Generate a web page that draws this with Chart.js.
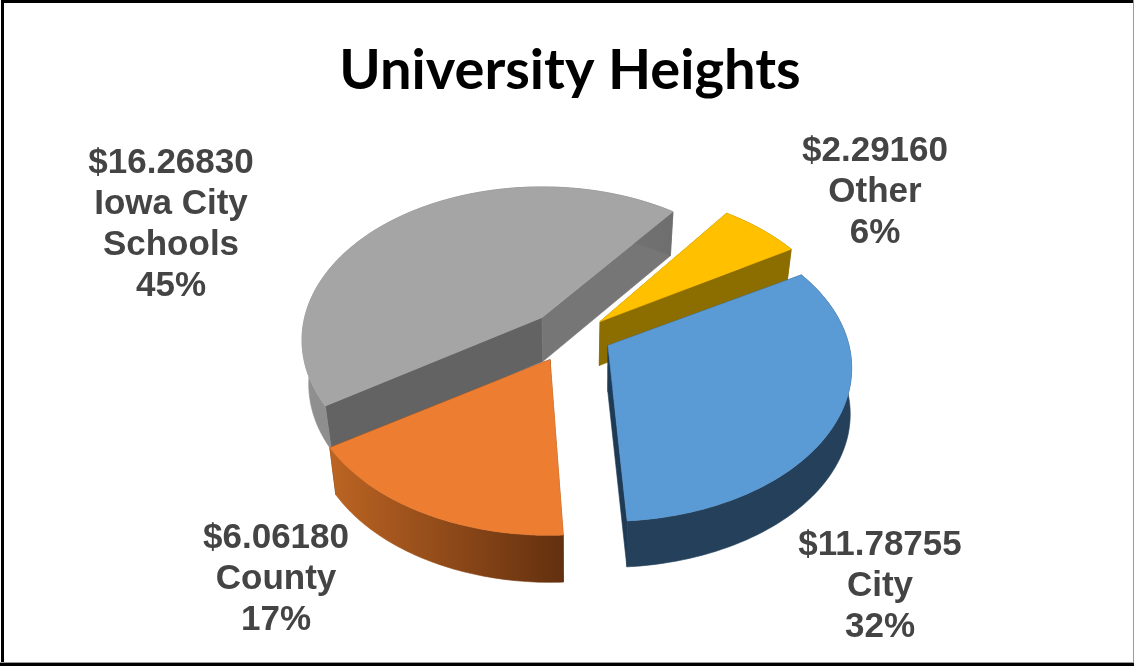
<!DOCTYPE html>
<html>
<head>
<meta charset="utf-8">
<title>University Heights</title>
<script src="https://cdn.jsdelivr.net/npm/chart.js@4"></script>
<style>
html, body { margin: 0; padding: 0; background: #fff; }
canvas { display: block; }
</style>
</head>
<body>
<canvas id="chart" width="1134" height="666"></canvas>
<script>
// data, clockwise from the rotation angle
const categories = ["Other", "City", "County", "Iowa City Schools"];
const categoryLines = [["Other"], ["City"], ["County"], ["Iowa City", "Schools"]];
const values = [2.2916, 11.78755, 6.0618, 16.2683];

// styles
const topColors = ["#ffc000", "#5b9bd5", "#ed7d31", "#a5a5a5"];
const wallStart = ["#8c6d00", "#24405a", "#bc6423", "#909090"];
const wallEnd = ["#8c6d00", "#24405a", "#63300f", "#6e6e6e"];
const cutStartColors = ["#8c6d00", "#24405a", "#8a4a18", "#636363"];
const cutEndColors = ["#8c6d00", "#1f3a54", "#63300f", "#767676"];
const explode = [[30, -12], [38, 12], [-20, 26], [-28, -16]];
const sliceTurn = [-1.5, -0.6, 0.6, 0.5];
const sliceWidth = [1, 1, 1, 0.985];
const sliceDepth = [44, 46, 47, 44];
const bottomShrink = [0.975, 0.995, 0.975, 0.975];
const labelAnchors = [[875, 151], [880, 545], [276, 538], [171, 163]];
const paintOrder = [3, 0, 2, 1];

// projection of the tilted disc
const tilt = 0.622;
const perspective = 0.147;

function project(arc, i, px, py, low) {
    const off = explode[i];
    const k = 1 / (1 - perspective * py);
    const sx = low ? bottomShrink[i] : 1;
    return {
        x: arc.x + (off[0] + arc.outerRadius * px * k * sliceWidth[i]) * sx,
        y: arc.y + off[1] + arc.outerRadius * tilt * py * k + (low ? sliceDepth[i] : 0),
    };
}

function tracePoints(ctx, pts) {
    ctx.beginPath();
    pts.forEach((p, i) => (i ? ctx.lineTo(p.x, p.y) : ctx.moveTo(p.x, p.y)));
    ctx.closePath();
}

function fillPoly(ctx, pts, fill) {
    tracePoints(ctx, pts);
    ctx.fillStyle = fill;
    ctx.strokeStyle = fill;
    ctx.lineWidth = 0.6;
    ctx.fill();
    ctx.stroke();
}

function drawSlice(ctx, arc, i) {
    const turn = sliceTurn[i] * Math.PI / 180;
    const top = [];
    const low = [];
    const steps = 80;
    for (let s = 0; s <= steps; s++) {
        const a = arc.startAngle + turn + (arc.endAngle - arc.startAngle) * s / steps;
        top.push(project(arc, i, Math.cos(a), Math.sin(a), false));
        low.push(project(arc, i, Math.cos(a), Math.sin(a), true));
    }
    const apexTop = project(arc, i, 0, 0, false);
    const apexLow = project(arc, i, 0, 0, true);

    // cut faces
    fillPoly(ctx, [apexTop, top[0], low[0], apexLow], cutStartColors[i]);
    fillPoly(ctx, [apexTop, top[steps], low[steps], apexLow], cutEndColors[i]);

    // outer wall
    const xs = top.concat(low).map(p => p.x);
    const grad = ctx.createLinearGradient(Math.min(...xs), 0, Math.max(...xs), 0);
    grad.addColorStop(0, wallStart[i]);
    grad.addColorStop(1, wallEnd[i]);
    fillPoly(ctx, top.concat(low.slice().reverse()), grad);

    // top face
    fillPoly(ctx, [apexTop].concat(top), topColors[i]);
}

const pie3d = {
    id: "pie3d",
    beforeDraw(chart) {
        const { ctx, width, height } = chart;
        ctx.save();
        ctx.fillStyle = "#fff";
        ctx.fillRect(0, 0, width, height);
        ctx.fillStyle = "#000";
        ctx.fillRect(1, 0, width - 1, 3);
        ctx.fillRect(1, 0, 3, height);
        ctx.fillRect(0, height - 3, width, 3);
        ctx.fillStyle = "#9a9a9a";
        ctx.fillRect(0, height - 4, width, 1);
        ctx.fillRect(width - 1, 0, 1, height - 3);
        ctx.restore();
    },
    beforeDatasetsDraw(chart) {
        const arcs = chart.getDatasetMeta(0).data;
        chart.ctx.save();
        paintOrder.forEach(i => drawSlice(chart.ctx, arcs[i], i));
        chart.ctx.restore();
        return false;
    },
    afterDraw(chart) {
        const ctx = chart.ctx;
        const total = values.reduce((a, b) => a + b, 0);
        ctx.save();
        ctx.font = "bold 35px 'Liberation Sans'";
        ctx.fillStyle = "#444444";
        ctx.textAlign = "center";
        ctx.textBaseline = "middle";
        categories.forEach((c, i) => {
            const lines = ["$" + values[i].toFixed(5)]
                .concat(categoryLines[i], Math.round(values[i] / total * 100) + "%");
            lines.forEach((line, n) => {
                ctx.fillText(line, labelAnchors[i][0], labelAnchors[i][1] + n * 41);
            });
        });
        ctx.restore();
    },
};

new Chart(document.getElementById("chart"), {
    type: "pie",
    data: {
        labels: categories,
        datasets: [{
            data: values,
            backgroundColor: topColors,
            borderWidth: 0,
        }],
    },
    options: {
        responsive: false,
        animation: false,
        rotation: 37.5,
        radius: 241,
        layout: { padding: { left: 6, right: 0, top: 0, bottom: 103 } },
        plugins: {
            legend: { display: false },
            tooltip: { enabled: false },
            title: {
                display: true,
                text: "University Heights",
                color: "#000",
                font: { family: "Lato", size: 56, weight: "bold" },
                padding: { top: 37, bottom: 0 },
            },
        },
    },
    plugins: [pie3d],
});
</script>
</body>
</html>
